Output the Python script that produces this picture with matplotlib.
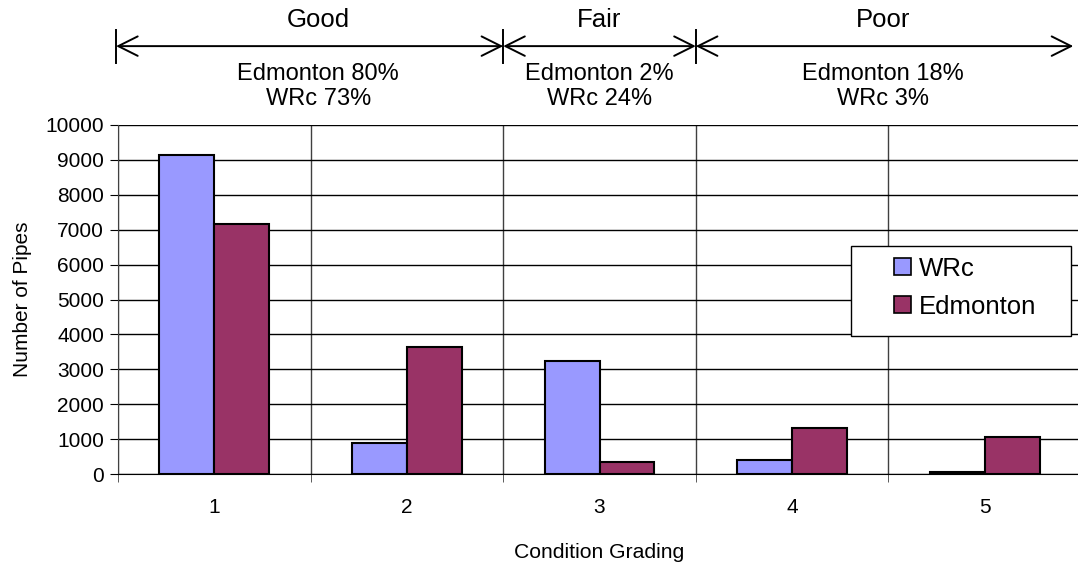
import matplotlib
matplotlib.use("Agg")
import matplotlib.pyplot as plt
from matplotlib.patches import ArrowStyle, Rectangle
import numpy as np

plt.rcParams['font.family'] = ['Liberation Sans', 'DejaVu Sans']

# pipe counts per condition grade
grades = [1, 2, 3, 4, 5]
wrc = [9150, 900, 3230, 400, 50]
edmonton = [7150, 3640, 330, 1310, 1070]

# condition bands drawn above the chart
band_names = ["Good", "Fair", "Poor"]
band_starts = [0.49, 2.5, 3.5]
band_ends = [2.5, 3.5, 5.46]
band_label_x = [1.54, 3.0, 4.47]
band_edmonton_pct = [80, 2, 18]
band_wrc_pct = [73, 24, 3]

W, H = 1078, 563
fig = plt.figure(figsize=(W / 100, H / 100), dpi=100)
ax = fig.add_axes([118 / W, 89 / H, 963 / W, 349 / H])

x = np.array(grades)
bw = 0.285
ax.bar(x - bw / 2, wrc, bw, color="#9999FF", edgecolor="black", linewidth=1.5,
       label="WRc", zorder=3)
ax.bar(x + bw / 2, edmonton, bw, color="#993366", edgecolor="black", linewidth=1.5,
       label="Edmonton", zorder=3)

ax.set_xlim(0.5, 5.5)
ax.set_ylim(0, 10000)
ax.set_yticks(np.arange(0, 10001, 1000))
ax.set_xticks(grades)
ax.set_xticks(np.arange(0.5, 5.6, 1.0), minor=True)
ax.tick_params(axis="x", which="major", length=0, pad=17, labelsize=15)
ax.tick_params(axis="x", which="minor", length=6, direction="out", color="#404040")
ax.tick_params(axis="y", length=6, direction="out", labelsize=15, pad=4)

ax.grid(axis="y", color="black", linewidth=1.0, zorder=0)
ax.grid(axis="x", which="minor", color="#404040", linewidth=1.0, zorder=0)
ax.set_axisbelow(True)

for s in ["top", "right"]:
    ax.spines[s].set_visible(False)
ax.spines["left"].set_color("#404040")
ax.spines["bottom"].set_color("black")

ax.set_ylabel("Number of Pipes", fontsize=15, labelpad=10)
ax.set_xlabel("Condition Grading", fontsize=15.2, labelpad=19)

# legend box with wide side margins
ax.add_patch(Rectangle((0.761, 0.395), 0.229, 0.258, transform=ax.transAxes,
                       facecolor="white", edgecolor="black", lw=1.0, zorder=4))
leg = ax.legend(loc="center left", bbox_to_anchor=(0.806, 0.534), frameon=False,
                fontsize=18.5, handlelength=0.65, handleheight=0.65,
                handletextpad=0.3, borderpad=0, labelspacing=0.55,
                borderaxespad=0)
leg.set_zorder(5)
for h in leg.legend_handles:
    h.set_linewidth(1.2)

# band arrows and labels above the plot
trans = ax.get_xaxis_transform()
arrow_y = 1.226
for i, name in enumerate(band_names):
    a, b = band_starts[i], band_ends[i]
    ax.annotate("", xy=(b, arrow_y), xytext=(a, arrow_y), xycoords=trans,
                textcoords=trans, annotation_clip=False,
                arrowprops=dict(arrowstyle=ArrowStyle("<->", head_length=14,
                                                      head_width=7),
                                mutation_scale=1, color="black", lw=1.4,
                                shrinkA=0, shrinkB=0))
    ax.text(band_label_x[i], 1.301, name, transform=trans, ha="center",
            va="center", fontsize=18.5, clip_on=False)
    ax.text(band_label_x[i], 1.110,
            f"Edmonton {band_edmonton_pct[i]}%\nWRc {band_wrc_pct[i]}%",
            transform=trans, ha="center", va="center", fontsize=17,
            clip_on=False)

# end bars at the band boundaries
for bx in band_starts:
    ax.plot([bx, bx], [arrow_y - 0.047, arrow_y + 0.047], transform=trans,
            color="black", lw=1.4, clip_on=False)

fig.savefig("out.png", dpi=100)
